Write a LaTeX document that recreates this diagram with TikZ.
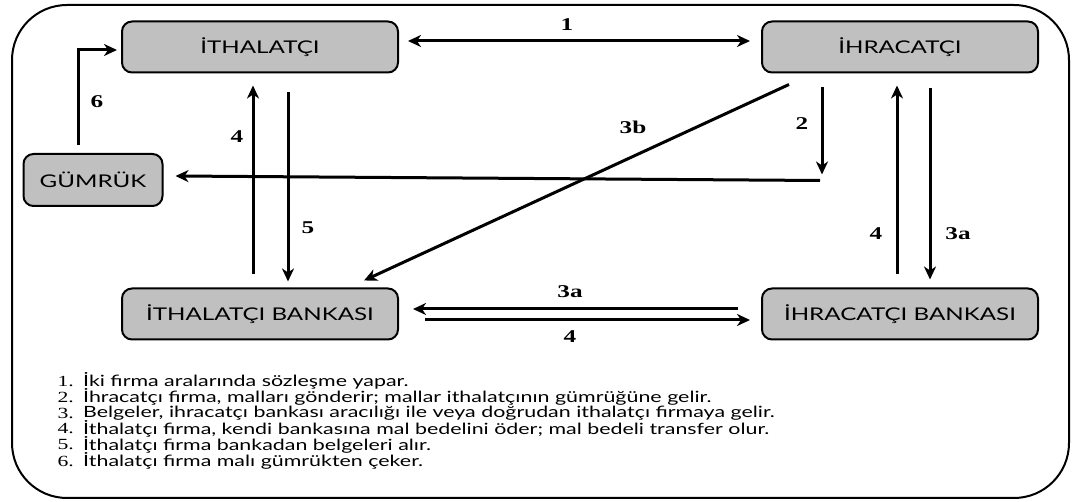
\documentclass[tikz,border=0pt]{standalone}
\usepackage{fontspec}
\setmainfont[FakeStretch=1.38]{Lato}
\newfontfamily\numfont[FakeStretch=1.4]{Liberation Serif}
\usetikzlibrary{arrows.meta,calc}
\tikzset{
  box/.style={draw=black, line width=2pt, fill=boxgray, rounded corners=10pt,
    minimum width=276pt, minimum height=51pt, inner sep=0pt, font=\fontsize{17.5}{19}\selectfont},
  arr/.style={line width=3pt, -{Stealth[length=13pt,width=12pt,inset=4pt]}},
  darr/.style={line width=3pt, {Stealth[length=13pt,width=12pt,inset=4pt]}-{Stealth[length=13pt,width=12pt,inset=4pt]}},
  lbl/.style={font=\numfont\bfseries\fontsize{18}{19}\selectfont, inner sep=0pt},
  item/.style={anchor=west, inner sep=0pt, font=\fontsize{15.5}{16}\selectfont},
  num/.style={anchor=east, inner sep=0pt, font=\numfont\fontsize{15.5}{16}\selectfont},
}
\definecolor{boxgray}{RGB}{192,192,192}
\begin{document}
\begin{tikzpicture}[x=1pt,y=-1pt]
\useasboundingbox (0,0) rectangle (1072,502);
\draw[line width=2pt, rounded corners=55pt] (12,5) rectangle (1069,498);

\node[box] (ith) at (260,47) {İTHALATÇI};
\node[box] (ihr) at (900,47) {İHRACATÇI};
\node[box, minimum width=139pt, minimum height=52pt] (gum) at (93,180) {GÜMRÜK};
\node[box] (itb) at (260,314) {İTHALATÇI BANKASI};
\node[box] (ihb) at (900,314) {İHRACATÇI BANKASI};

% 1
\draw[darr] ($(ith.east)+(9,-6)$) -- ($(ihr.west)+(-11,-6)$);
% 6
\draw[arr] ($(gum.north)+(-15,-8)$) |- ($(ith.west)+(-4,3)$);
% 4 left, 5
\draw[arr] ($(itb.north)+(-7,-13)$) -- ($(ith.south)+(-7,12)$);
\draw[arr] ($(ith.south)+(28,19)$) -- ($(itb.north)+(28,-6)$);
% 2
\coordinate (c2) at ($(ihr.south)+(-78,103)$);
\draw[arr] ($(ihr.south)+(-78,14)$) -- ($(c2)+(0,-2)$);
\draw[arr] ($(c2)+(-2,4)$) -- ($(gum.east)+(12,-4)$);
% 3b
\draw[arr] ($(ihr.south)+(-111,11)$) -- ($(itb.north)+(104,-7)$);
% right 4, 3a
\draw[arr] ($(ihb.north)+(-3,-13)$) -- ($(ihr.south)+(-3,12)$);
\draw[arr] ($(ihr.south)+(30,15)$) -- ($(ihb.north)+(30,-8)$);
% bottom 3a, 4
\draw[arr] ($(ihb.west)+(-23,-5)$) -- ($(itb.east)+(14,-5)$);
\draw[arr] ($(itb.east)+(26,6)$) -- ($(ihb.west)+(-11,6)$);

\node[lbl] (n1) at (567,25) {1};
\node[lbl] (n6) at (97,102) {6};
\node[lbl] (n4a) at (237,137) {4};
\node[lbl] (n5) at (308,228) {5};
\node[lbl] (n2) at (802,124) {2};
\node[lbl] (n3b) at (633,127) {3b};
\node[lbl] (n4b) at (876,234) {4};
\node[lbl] (n3a) at (958,234) {3a};
\node[lbl] (n3c) at (570,292) {3a};
\node[lbl] (n4c) at (570,337) {4};

\node[num] (m1) at (74,381) {1.};
\node[num] (m2) at (74,397) {2.};
\node[num] (m3) at (74,413) {3.};
\node[num] (m4) at (74,429) {4.};
\node[num] (m5) at (74,445) {5.};
\node[num] (m6) at (74,461) {6.};
\node[item] (t1) at (83,381) {İki firma aralarında sözleşme yapar.};
\node[item] (t2) at (83,397) {İhracatçı firma, malları gönderir; mallar ithalatçının gümrüğüne gelir.};
\node[item] (t3) at (83,413) {Belgeler, ihracatçı bankası aracılığı ile veya doğrudan ithalatçı firmaya gelir.};
\node[item] (t4) at (83,429) {İthalatçı firma, kendi bankasına mal bedelini öder; mal bedeli transfer olur.};
\node[item] (t5) at (83,445) {İthalatçı firma bankadan belgeleri alır.};
\node[item] (t6) at (83,461) {İthalatçı firma malı gümrükten çeker.};
\end{tikzpicture}
\end{document}
